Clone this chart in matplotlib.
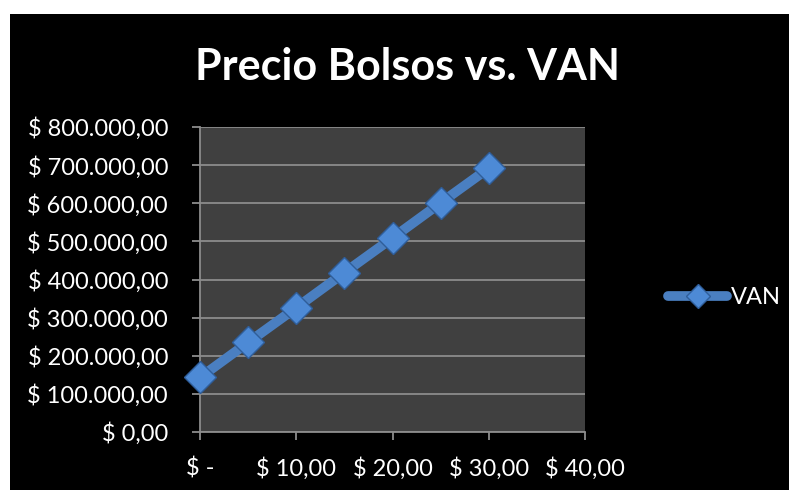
import matplotlib
matplotlib.use("Agg")
import matplotlib.pyplot as plt
from matplotlib.patches import Rectangle
from matplotlib.ticker import FuncFormatter, MultipleLocator

precio = [0, 5, 10, 15, 20, 25, 30]
van = [143000, 235000, 326000, 418000, 509000, 601000, 692000]
series_name = "VAN"
title = "Precio Bolsos vs. VAN"

FONT = ["Lato", "DejaVu Sans"]

fig = plt.figure(figsize=(7.89, 4.90), dpi=100)
fig.patch.set_facecolor("white")
fig.patches.append(Rectangle((10 / 789, 0), 1 - 10 / 789, 1 - 14 / 490,
                             transform=fig.transFigure, facecolor="black",
                             edgecolor="none", zorder=-10))

ax = fig.add_axes([200 / 789, (490 - 432) / 490, 385 / 789, 305 / 490])
ax.set_facecolor("#404040")
ax.set_zorder(1)

line, = ax.plot(precio, van, color="#4a7fc1", linewidth=7, solid_capstyle="round",
                marker="D", markersize=16, markerfacecolor="#4d8ad6",
                markeredgecolor="#2f5e9a", markeredgewidth=1.0, zorder=3,
                label=series_name, clip_on=False)

ax.set_xlim(0, 40)
ax.set_ylim(0, 800000)
ax.xaxis.set_major_locator(MultipleLocator(10))
ax.yaxis.set_major_locator(MultipleLocator(100000))


def yfmt(v, pos):
    s = f"{v:,.2f}".replace(",", "X").replace(".", ",").replace("X", ".")
    return f"$ {s}"


def xfmt(v, pos):
    if v == 0:
        return "$ -"
    s = f"{v:,.2f}".replace(",", "X").replace(".", ",").replace("X", ".")
    return f"$ {s}"


ax.yaxis.set_major_formatter(FuncFormatter(yfmt))
ax.xaxis.set_major_formatter(FuncFormatter(xfmt))

ax.grid(axis="y", color="#8c8c8c", linewidth=1.3)
ax.set_axisbelow(True)
for side in ["top", "right"]:
    ax.spines[side].set_visible(False)
for side in ["left", "bottom"]:
    ax.spines[side].set_color("#8c8c8c")
    ax.spines[side].set_linewidth(1.3)

ax.tick_params(axis="both", colors="#8c8c8c", length=6, width=1.3, direction="out")
ax.tick_params(axis="y", pad=17, labelcolor="white", labelsize=17)
ax.tick_params(axis="x", pad=12, labelcolor="white", labelsize=17)
for lab in ax.get_xticklabels() + ax.get_yticklabels():
    lab.set_family(FONT)

fig.text(407 / 789, 1 - 67 / 490, title, ha="center", va="center",
         fontsize=31, fontweight="bold", color="white", family=FONT)

leg = fig.legend(handles=[line], loc="center left",
                 bbox_to_anchor=(659 / 789, 1 - 298 / 490), frameon=False,
                 prop={"family": FONT, "size": 17}, handlelength=2.5,
                 handletextpad=0.15, borderaxespad=0, markerscale=0.75)
for t in leg.get_texts():
    t.set_color("white")

fig.savefig("out.png", dpi=100, facecolor=fig.get_facecolor())
